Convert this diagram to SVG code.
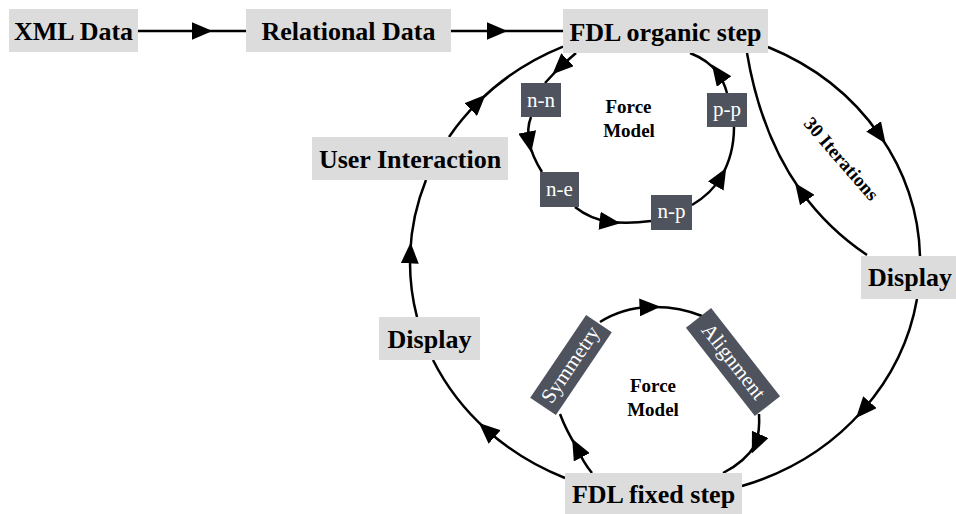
<svg xmlns="http://www.w3.org/2000/svg" width="956" height="514" viewBox="0 0 956 514">
<style>
.box{fill:#dcdcdc}
.dbox{fill:#4e535e}
.lbl{font-family:"Liberation Serif","Times New Roman",serif;font-weight:bold;font-size:26px;fill:#000;text-anchor:middle}
.dl{font-family:"Liberation Serif","Times New Roman",serif;font-size:21px;fill:#fff;text-anchor:middle}
.fm{font-family:"Liberation Serif","Times New Roman",serif;font-weight:bold;font-size:19px;fill:#000;text-anchor:middle}
.c{fill:none;stroke:#000;stroke-width:2.5;marker-mid:url(#ah)}
</style>
<defs>
<marker id="ah" markerUnits="userSpaceOnUse" markerWidth="21" markerHeight="18" viewBox="0 0 21 18" refX="10.5" refY="9" orient="auto">
<path d="M0,0 L21,9 L0,18 z" fill="#000"/>
</marker>
</defs>
<rect width="956" height="514" fill="#fff"/>
<g id="connectors">
<path class="c" d="M138,31 L202,31 L246,31"/>
<path class="c" d="M451,31 L497,31 L563,31"/>
<path class="c" d="M449,137 A255,235 0 0 1 478.1,102.2 A255,235 0 0 1 563,46.6"/>
<path class="c" d="M417,317 A255,235 0 0 1 410.2,253 A255,235 0 0 1 426,180"/>
<path class="c" d="M565,478 A255,235 0 0 1 486.8,430 A255,235 0 0 1 433,360"/>
<path class="c" d="M768,47 A255,235 0 0 1 879.6,135 A255,235 0 0 1 920,256"/>
<path class="c" d="M917,299 A255,235 0 0 1 863,410 A255,235 0 0 1 742,486"/>
<path class="c" d="M867,255 Q828.2,229 801.2,191.5 Q760.8,135.2 747,53"/>
<path class="c" d="M576,53 L560,67 L545,83"/>
<path class="c" d="M531,117 Q526.5,128.5 529.25,142.25 Q532,156 542,172"/>
<path class="c" d="M575,207 Q590,219 610,222 Q630,224 651,221"/>
<path class="c" d="M692,205 Q712,193 721,177 Q734,155 734,127"/>
<path class="c" d="M727,93 Q724,82 718,73 Q708,60 690,53"/>
<path class="c" d="M592,473 Q583,462 577,448 Q566,430 560,414"/>
<path class="c" d="M600,322 Q622,308 650,307 Q678,306 702,316"/>
<path class="c" d="M759,414 Q760,430 756,444 Q745,462 723,473"/>
</g>
<g id="xml-data"><rect class="box" x="9" y="9" width="129" height="43"/><text class="lbl" x="73.5" y="40">XML Data</text></g>
<g id="relational-data"><rect class="box" x="246" y="9" width="205" height="43"/><text class="lbl" x="348.5" y="40">Relational Data</text></g>
<g id="fdl-organic"><rect class="box" x="563" y="9" width="205" height="44"/><text class="lbl" x="665.5" y="41">FDL organic step</text></g>
<g id="user-interaction"><rect class="box" x="312" y="137" width="196" height="43"/><text class="lbl" x="410" y="168">User Interaction</text></g>
<g id="display-left"><rect class="box" x="379" y="317" width="101" height="43"/><text class="lbl" x="429.5" y="348">Display</text></g>
<g id="display-right"><rect class="box" x="861" y="256" width="95" height="43"/><text class="lbl" x="910" y="286">Display</text></g>
<g id="fdl-fixed"><rect class="box" x="565" y="473" width="177" height="41"/><text class="lbl" x="653.5" y="503">FDL fixed step</text></g>
<g id="n-n"><rect class="dbox" x="521" y="83" width="40" height="34"/><text class="dl" x="541" y="107">n-n</text></g>
<g id="n-e"><rect class="dbox" x="540" y="172" width="39" height="35"/><text class="dl" x="559.5" y="196">n-e</text></g>
<g id="n-p"><rect class="dbox" x="651" y="195" width="41" height="35"/><text class="dl" x="671.5" y="218">n-p</text></g>
<g id="p-p"><rect class="dbox" x="707" y="93" width="40" height="34"/><text class="dl" x="727" y="116">p-p</text></g>
<g id="force-model-top"><text class="fm" x="628.5" y="113">Force</text><text class="fm" x="629" y="137">Model</text></g>
<g id="force-model-bottom"><text class="fm" x="653" y="392">Force</text><text class="fm" x="653" y="416">Model</text></g>
<g id="symmetry" transform="translate(571,365) rotate(-56)"><rect class="dbox" x="-50" y="-15.5" width="100" height="31"/><text class="dl" x="0" y="6">Symmetry</text></g>
<g id="alignment" transform="translate(733,362) rotate(52)"><rect class="dbox" x="-56" y="-16" width="112" height="32"/><text class="dl" x="0" y="6">Alignment</text></g>
<g id="iterations-label" transform="translate(841,159) rotate(49)"><text class="fm" x="0" y="6">30 Iterations</text></g>
</svg>
